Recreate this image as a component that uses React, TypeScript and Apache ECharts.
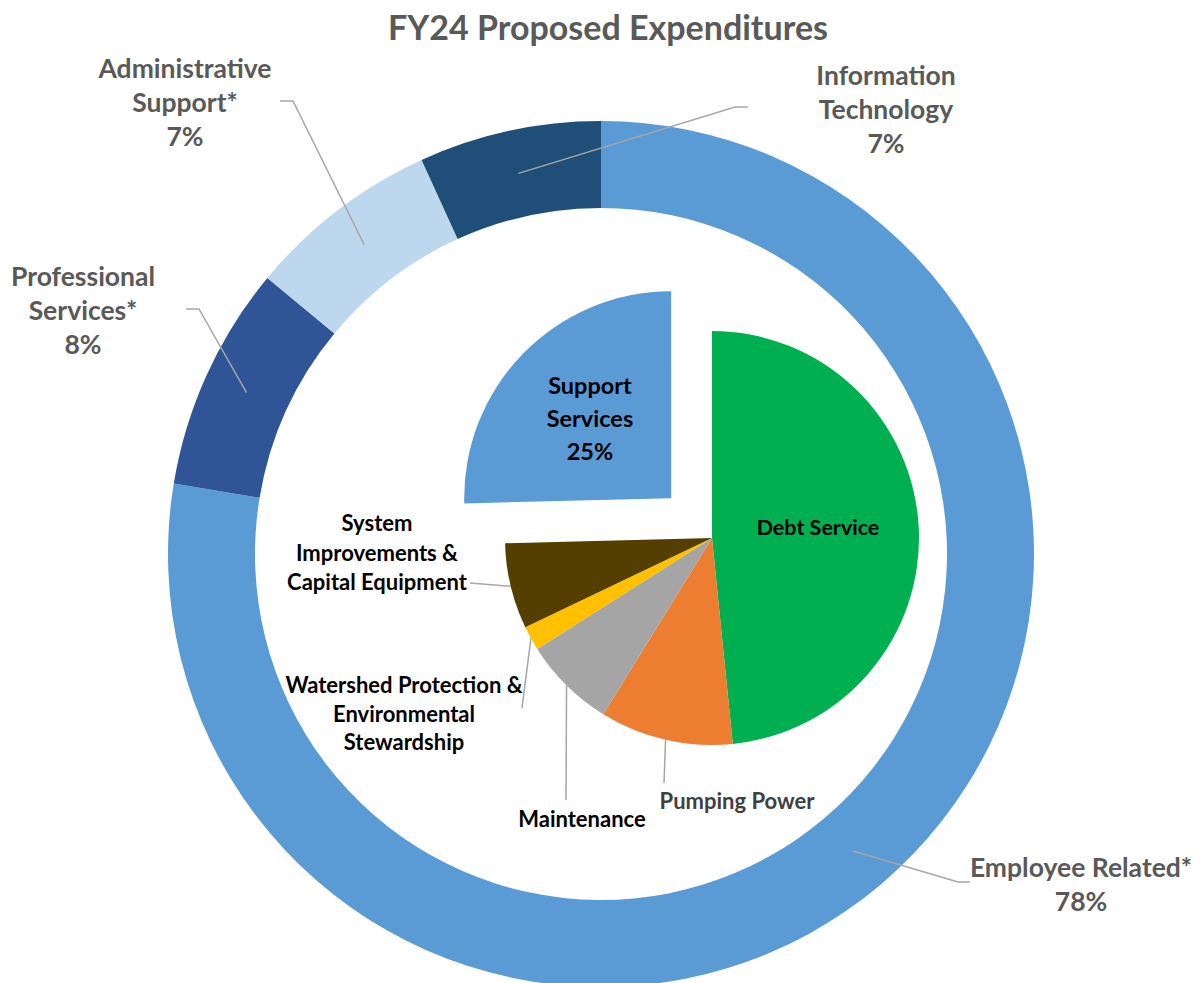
import React, { useEffect, useRef } from "react";
import * as echarts from "echarts";

// ---- Data ----
const titleText = "FY24 Proposed Expenditures";

const outerCategories = [
  "Employee Related*",
  "Professional\nServices*",
  "Administrative\nSupport*",
  "Information\nTechnology",
];
const outerValues = [77.6, 8.4, 7.2, 6.8];

const innerCategories = [
  "Debt Service",
  "Pumping Power",
  "Maintenance",
  "Watershed Protection &\nEnvironmental\nStewardship",
  "System\nImprovements &\nCapital Equipment",
  "Support Services",
];
const innerValues = [48.4, 10.4, 7.2, 1.9, 6.7, 25.4];
const innerShowPercent = [false, false, false, false, false, true];
const innerInside = [true, false, false, false, false, true];

// ---- Styles / layout ----
const outerColors = ["#5B9BD5", "#2F5597", "#BDD7EE", "#1F4E79"];
const innerColors = ["#00B050", "#ED7D31", "#A5A5A5", "#FFC000", "#543F00", "#5B9BD5"];
const innerTextColors = ["#000000", "#404040", "#000000", "#000000", "#000000", "#000000"];
const innerFontSizes = [21.5, 22, 22, 22, 22, 23.5];
const innerLineHeights = [30, 29, 29, 28.5, 29.5, 33];
const innerPadding = [0, 0, 0, 0, 0, [0, 10, 0, 0]];

const FONT = "Lato, 'Open Sans', sans-serif";
const OUTER_C = [601, 554];
const OUTER_R = [346, 433];
const INNER_C = [712, 538];
const INNER_R = 207;

// label centre, leader elbow, leader end
const outerLabelLayout = [
  { label: [1081, 884], elbow: [958, 882], end: [970, 882] },
  { label: [83, 310], elbow: [199, 309], end: [186, 309] },
  { label: [185, 102], elbow: [293, 101], end: [280, 101] },
  { label: [886, 109], elbow: [735, 107], end: [748, 107] },
];
const innerLabelLayout: any[] = [
  { label: [818, 527] },
  { label: [737, 800], end: [664, 783] },
  { label: [582, 818], end: [566, 800] },
  { label: [404, 713], end: [522, 708] },
  { label: [377, 552], end: [470, 583] },
  null,
];

// point at radius r on the middle angle of slice i (clockwise from 12 o'clock)
function midPoint(values: number[], i: number, c: number[], r: number) {
  const total = values.reduce((a, b) => a + b, 0);
  let cum = 0;
  for (let k = 0; k < i; k++) cum += values[k];
  const frac = (cum + values[i] / 2) / total;
  const a = frac * Math.PI * 2;
  return [c[0] + r * Math.sin(a), c[1] - r * Math.cos(a)];
}

export default function App() {
  const ref = useRef<HTMLDivElement>(null);

  useEffect(() => {
    document.body.style.margin = "0";
    if (!ref.current) return;
    const chart = echarts.init(ref.current, undefined, { renderer: "svg" });

    const outerData = outerCategories.map((name, i) => ({
      name,
      value: outerValues[i],
      itemStyle: { color: outerColors[i] },
    }));
    const outerLabelData = outerCategories.map((name, i) => ({
      name,
      value: outerValues[i],
      itemStyle: { color: "rgba(0,0,0,0)" },
    }));

    const innerData = innerCategories.map((name, i) => ({
      name,
      value: innerValues[i],
      selected: i === innerCategories.length - 1,
      itemStyle: { color: innerColors[i] },
      label: {
        show: true,
        position: innerInside[i] ? "inside" : "outside",
        color: innerTextColors[i],
        fontSize: innerFontSizes[i],
        lineHeight: innerLineHeights[i],
        padding: innerPadding[i],
      },
      labelLine: { show: !innerInside[i] },
    }));

    const midR = (OUTER_R[0] + OUTER_R[1]) / 2;

    chart.setOption({
      animation: false,
      graphic: [
        {
          type: "text",
          x: 608,
          y: 26,
          style: {
            text: titleText,
            align: "center",
            verticalAlign: "middle",
            fontFamily: FONT,
            fontWeight: "bold",
            fontSize: 34,
            fill: "#595959",
          },
        },
      ],
      series: [
        {
          type: "pie",
          name: "Expenditure categories",
          center: OUTER_C,
          radius: OUTER_R,
          startAngle: 90,
          clockwise: true,
          silent: true,
          emphasis: { disabled: true },
          data: outerData,
          label: { show: false },
          labelLine: { show: false },
          z: 2,
        },
        {
          // transparent twin of the ring, drawn above it, carrying labels and leader lines
          type: "pie",
          name: "Expenditure category labels",
          center: OUTER_C,
          radius: OUTER_R,
          startAngle: 90,
          clockwise: true,
          avoidLabelOverlap: false,
          silent: true,
          emphasis: { disabled: true },
          data: outerLabelData,
          z: 4,
          label: {
            show: true,
            position: "outside",
            fontFamily: FONT,
            fontWeight: "bold",
            fontSize: 26.5,
            lineHeight: 34,
            color: "#595959",
            align: "center",
            formatter: (p: any) => `${p.name}\n${Math.round(p.percent)}%`,
          },
          labelLine: {
            show: true,
            showAbove: true,
            lineStyle: { color: "#A6A6A6", width: 1.5 },
          },
          labelLayout: (params: any) => {
            const i = params.dataIndex;
            const l = outerLabelLayout[i];
            return {
              x: l.label[0],
              y: l.label[1],
              align: "center",
              verticalAlign: "middle",
              labelLinePoints: [midPoint(outerValues, i, OUTER_C, midR), l.elbow, l.end],
            };
          },
        },
        {
          type: "pie",
          name: "Expenditures",
          center: INNER_C,
          radius: [0, INNER_R],
          startAngle: 90,
          clockwise: true,
          avoidLabelOverlap: false,
          selectedMode: "single",
          selectedOffset: 57,
          silent: true,
          emphasis: { disabled: true },
          data: innerData,
          z: 3,
          label: {
            show: true,
            fontFamily: FONT,
            fontWeight: "bold",
            align: "center",
            rich: { s: { fontSize: 1, lineHeight: 12 } },
            formatter: (p: any) =>
              innerShowPercent[p.dataIndex]
                ? `${p.name.replace(" ", "\n")}\n${Math.round(p.percent)}%\n{s| }`
                : p.name,
          },
          labelLine: {
            lineStyle: { color: "#A6A6A6", width: 1.5 },
          },
          labelLayout: (params: any) => {
            const i = params.dataIndex;
            const l = innerLabelLayout[i];
            if (!l) return {};
            const out: any = {
              x: l.label[0],
              y: l.label[1],
              align: "center",
              verticalAlign: "middle",
            };
            if (l.end) {
              const s = midPoint(innerValues, i, INNER_C, INNER_R);
              out.labelLinePoints = [s, l.end, l.end];
            }
            return out;
          },
        },
      ],
    });

    return () => chart.dispose();
  }, []);

  return <div ref={ref} style={{ width: 1200, height: 983 }} />;
}
